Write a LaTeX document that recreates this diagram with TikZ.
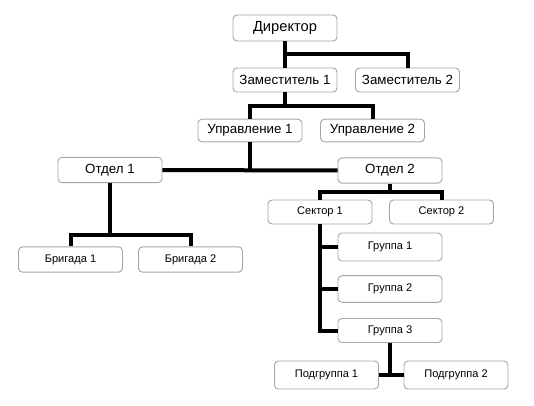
\documentclass[tikz,border=0pt]{standalone}
\usepackage{fontspec}
\setmainfont{Liberation Sans}
\usepackage{tikz}
\usepackage{xcolor}

\begin{document}
\begin{tikzpicture}[x=0.75pt,y=-0.75pt,
        unit/.style={draw=gray!70,line width=0.7pt,fill=white,rounded corners=3pt,
            minimum width=78pt,minimum height=18pt,inner sep=1pt,font=\fontsize{10}{11}\selectfont},
        subunit/.style={unit,font=\fontsize{8.3}{9}\selectfont},
        link/.style={line width=3pt,black}]
        \useasboundingbox (0,0) rectangle (534,405);

        % Draw the boxes
        \node[unit,minimum height=19.5pt,font=\fontsize{11}{12}\selectfont] (dir) at (285,28) {Директор};
        \node[unit] (zam1) at (285,80) {Заместитель 1};
        \node[unit] (zam2) at (407.5,80) {Заместитель 2};
        \node[unit,minimum height=17pt] (upr1) at (250,130.5) {Управление 1};
        \node[unit,minimum height=17pt] (upr2) at (372.5,130.5) {Управление 2};
        \node[unit,minimum height=19pt] (otd1) at (110,170) {Отдел 1};
        \node[unit,minimum height=19pt] (otd2) at (390,170.5) {Отдел 2};
        \node[subunit,minimum height=19pt] (br1) at (70.5,259.5) {Бригада 1};
        \node[subunit,minimum height=19pt] (br2) at (190.5,259.5) {Бригада 2};
        \node[subunit] (sek1) at (320,212) {Сектор 1};
        \node[subunit] (sek2) at (441.5,212) {Сектор 2};
        \node[subunit,minimum height=21pt] (gr1) at (390,247) {Группа 1};
        \node[subunit,minimum height=20pt] (gr2) at (390,289) {Группа 2};
        \node[subunit] (gr3) at (390,330.5) {Группа 3};
        \node[subunit,minimum height=21pt] (pg1) at (326.5,375) {Подгруппа 1};
        \node[subunit,minimum height=21pt] (pg2) at (456,375) {Подгруппа 2};

        % Junctions of the lines
        \coordinate (j1) at (285,54);
        \coordinate (j2) at (285,106);
        \coordinate (j3) at (110,235);
        \coordinate (j4) at (390,191.5);

        % Draw the lines
        \draw[link] (dir) -- (zam1);
        \draw[link] (j1) -| (zam2);
        \draw[link] (zam1) -- (j2);
        \draw[link] (upr1) |- (j2) -| (upr2);
        \draw[link] (upr1) -- (upr1 |- otd1);
        \draw[link] (otd1) -- (otd2);
        \draw[link] (otd1) -- (j3);
        \draw[link] (br1) |- (j3) -| (br2);
        \draw[link] (otd2) -- (j4);
        \draw[link] (sek1) |- (j4) -| (sek2);
        \draw[link] (sek1) |- (gr3);
        \draw[link] (sek1 |- gr1) -- (gr1);
        \draw[link] (sek1 |- gr2) -- (gr2);
        \draw[link] (gr3) -- (gr3 |- pg1);
        \draw[link] (pg1) -- (pg2);
    \end{tikzpicture}
\end{document}
